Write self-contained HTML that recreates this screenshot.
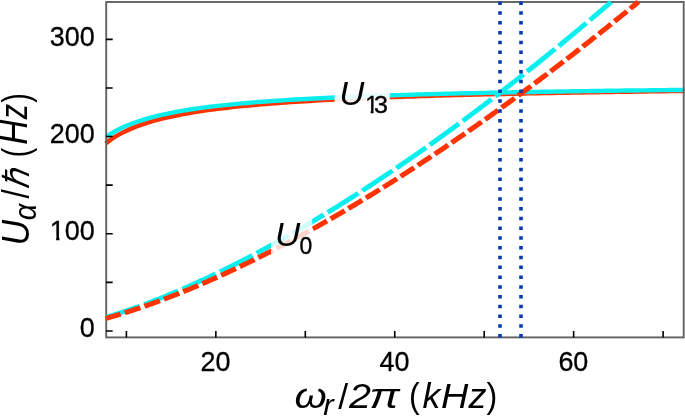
<!DOCTYPE html>
<html><head><meta charset="utf-8"><title>U vs omega</title>
<style>html,body{margin:0;padding:0;background:#fff}svg{display:block}text{font-family:"Liberation Sans",sans-serif;fill:#000}.t text{stroke:#000;stroke-width:.3px}.i{font-style:italic}</style></head>
<body>
<svg width="685" height="416" viewBox="0 0 685 416">
<rect width="685" height="416" fill="#fff"/>
<defs><clipPath id="k1"><polygon points="-71.51,-26.80 35.69,-26.80 35.69,2.68 -30.51,2.68 -30.51,-3.62 -35.20,-3.62 -35.20,1.34 -38.42,1.34 -38.42,-3.62 -71.51,-3.62"/></clipPath><clipPath id="k2"><polygon points="-23.60,-23.60 70.80,-23.60 70.80,2.36 12.51,2.36 12.51,-3.19 8.38,-3.19 8.38,1.18 5.55,1.18 5.55,-3.19 -23.60,-3.19"/></clipPath></defs>
<g fill="none">
<path d="M105.60,143.59 L110.46,139.90 L115.33,136.69 L120.19,133.88 L125.06,131.38 L129.92,129.14 L134.79,127.13 L139.65,125.30 L144.52,123.63 L149.38,122.10 L154.25,120.69 L159.11,119.38 L163.98,118.17 L168.84,117.04 L173.71,115.99 L178.57,115.00 L183.44,114.08 L188.30,113.21 L193.16,112.38 L198.03,111.61 L202.89,110.87 L207.76,110.18 L212.62,109.52 L217.49,108.89 L222.35,108.29 L227.22,107.72 L232.08,107.18 L236.95,106.66 L241.81,106.17 L246.68,105.69 L251.54,105.23 L256.41,104.80 L261.27,104.38 L266.14,103.97 L271.00,103.59 L275.86,103.21 L280.73,102.85 L285.59,102.50 L290.46,102.17 L295.32,101.85 L300.19,101.53 L305.05,101.23 L309.92,100.94 L314.78,100.66 L319.65,100.38 L324.51,100.12 L329.38,99.86 L334.24,99.61 L339.11,99.37 L343.97,99.13 L348.84,98.90 L353.70,98.68 L358.56,98.47 L363.43,98.26 L368.29,98.05 L373.16,97.85 L378.02,97.66 L382.89,97.47 L387.75,97.29 L392.62,97.11 L397.48,96.93 L402.35,96.76 L407.21,96.59 L412.08,96.43 L416.94,96.27 L421.81,96.12 L426.67,95.97 L431.54,95.82 L436.40,95.67 L441.26,95.53 L446.13,95.39 L450.99,95.26 L455.86,95.12 L460.72,94.99 L465.59,94.87 L470.45,94.74 L475.32,94.62 L480.18,94.50 L485.05,94.38 L489.91,94.27 L494.78,94.16 L499.64,94.04 L504.51,93.94 L509.37,93.83 L514.24,93.73 L519.10,93.62 L523.96,93.52 L528.83,93.42 L533.69,93.33 L538.56,93.23 L543.42,93.14 L548.29,93.04 L553.15,92.95 L558.02,92.87 L562.88,92.78 L567.75,92.69 L572.61,92.61 L577.48,92.52 L582.34,92.44 L587.21,92.36 L592.07,92.28 L596.94,92.21 L601.80,92.13 L606.66,92.05 L611.53,91.98 L616.39,91.91 L621.26,91.83 L626.12,91.76 L630.99,91.69 L635.85,91.62 L640.72,91.56 L645.58,91.49 L650.45,91.42 L655.31,91.36 L660.18,91.29 L665.04,91.23 L669.91,91.17 L674.77,91.11 L679.64,91.05 L684.50,90.99" stroke="#ff3300" stroke-width="4.4"/>
<path d="M105.90,137.05 L110.76,133.84 L115.62,131.02 L120.49,128.52 L125.35,126.28 L130.21,124.27 L135.07,122.45 L139.94,120.79 L144.80,119.28 L149.66,117.88 L154.52,116.60 L159.38,115.41 L164.25,114.31 L169.11,113.28 L173.97,112.32 L178.83,111.42 L183.69,110.58 L188.56,109.79 L193.42,109.04 L198.28,108.34 L203.14,107.67 L208.01,107.04 L212.87,106.44 L217.73,105.88 L222.59,105.33 L227.45,104.82 L232.32,104.33 L237.18,103.86 L242.04,103.41 L246.90,102.98 L251.77,102.57 L256.63,102.18 L261.49,101.80 L266.35,101.44 L271.21,101.09 L276.08,100.75 L280.94,100.43 L285.80,100.12 L290.66,99.81 L295.53,99.52 L300.39,99.24 L305.25,98.97 L310.11,98.71 L314.97,98.46 L319.84,98.21 L324.70,97.98 L329.56,97.75 L334.42,97.52 L339.28,97.31 L344.15,97.10 L349.01,96.89 L353.87,96.69 L358.73,96.50 L363.60,96.31 L368.46,96.13 L373.32,95.95 L378.18,95.78 L383.04,95.61 L387.91,95.45 L392.77,95.29 L397.63,95.13 L402.49,94.98 L407.36,94.83 L412.22,94.69 L417.08,94.55 L421.94,94.41 L426.80,94.28 L431.67,94.15 L436.53,94.02 L441.39,93.89 L446.25,93.77 L451.12,93.65 L455.98,93.53 L460.84,93.42 L465.70,93.30 L470.56,93.19 L475.43,93.08 L480.29,92.98 L485.15,92.87 L490.01,92.77 L494.87,92.67 L499.74,92.58 L504.60,92.48 L509.46,92.39 L514.32,92.29 L519.19,92.20 L524.05,92.11 L528.91,92.03 L533.77,91.94 L538.63,91.86 L543.50,91.78 L548.36,91.69 L553.22,91.61 L558.08,91.54 L562.95,91.46 L567.81,91.38 L572.67,91.31 L577.53,91.24 L582.39,91.16 L587.26,91.09 L592.12,91.02 L596.98,90.96 L601.84,90.89 L606.71,90.82 L611.57,90.76 L616.43,90.69 L621.29,90.63 L626.15,90.57 L631.02,90.51 L635.88,90.45 L640.74,90.39 L645.60,90.33 L650.46,90.27 L655.33,90.21 L660.19,90.16 L665.05,90.10 L669.91,90.05 L674.78,89.99 L679.64,89.94 L684.50,89.89" stroke="#0aeeee" stroke-width="4.4"/>
</g>
<rect x="106.2" y="2.0" width="577.5" height="335.4" fill="none" stroke="#626262" stroke-width="1.9"/>
<g fill="none" transform="scale(1.08,1)">
<path d="M97.96,317.33 L99.12,316.96 L100.27,316.58 L101.43,316.20 L102.58,315.82 L103.74,315.43 L104.90,315.04 L106.05,314.65 L107.21,314.25 L108.36,313.86 L109.52,313.45 L110.67,313.05 L111.83,312.64 L112.98,312.23 L114.14,311.81 L115.29,311.40 L116.45,310.98 L117.61,310.55 L118.76,310.13 L119.92,309.70 L121.07,309.27 L122.23,308.83 L123.38,308.39 L124.54,307.95 L125.69,307.51 L126.85,307.06 L128.00,306.61 L129.16,306.16 L130.32,305.71 L131.47,305.25 L132.63,304.79 L133.78,304.33 L134.94,303.86 L136.09,303.39 L137.25,302.92 L138.40,302.45 L139.56,301.97 L140.71,301.49 L141.87,301.01 L143.03,300.53 L144.18,300.04 L145.34,299.55 L146.49,299.06 L147.65,298.57 L148.80,298.07 L149.96,297.57 L151.11,297.07 L152.27,296.57 L153.42,296.06 L154.58,295.55 L155.74,295.04 L156.89,294.53 L158.05,294.01 L159.20,293.49 L160.36,292.97 L161.51,292.45 L162.67,291.92 L163.82,291.39 L164.98,290.86 L166.13,290.33 L167.29,289.79 L168.45,289.25 L169.60,288.71 L170.76,288.17 L171.91,287.63 L173.07,287.08 L174.22,286.53 L175.38,285.98 L176.53,285.43 L177.69,284.87 L178.84,284.31 L180.00,283.75 L181.16,283.19 L182.31,282.62 L183.47,282.06 L184.62,281.49 L185.78,280.91 L186.93,280.34 L188.09,279.77 L189.24,279.19 L190.40,278.61 L191.55,278.02 L192.71,277.44 L193.87,276.85 L195.02,276.26 L196.18,275.67 L197.33,275.08 L198.49,274.49 L199.64,273.89 L200.80,273.29 L201.95,272.69 L203.11,272.08 L204.26,271.48 L205.42,270.87 L206.57,270.26 L207.73,269.65 L208.89,269.04 L210.04,268.42 L211.20,267.80 L212.35,267.18 L213.51,266.56 L214.66,265.94 L215.82,265.31 L216.97,264.68 L218.13,264.05 L219.28,263.42 L220.44,262.79 L221.60,262.15 L222.75,261.51 L223.91,260.87 L225.06,260.23 L226.22,259.59 L227.37,258.94 L228.53,258.30 L229.68,257.65 L230.84,257.00 L231.99,256.34 L233.15,255.69 L234.31,255.03 L235.46,254.37 L236.62,253.71 L237.77,253.05 L238.93,252.38 L240.08,251.72 L241.24,251.05 L242.39,250.38 L243.55,249.71 L244.70,249.03 L245.86,248.36 L247.02,247.68 L248.17,247.00 L249.33,246.32 L250.48,245.64 L251.64,244.95 L252.79,244.26 L253.95,243.58 L255.10,242.88 L256.26,242.19 L257.41,241.50 L258.57,240.80 L259.73,240.11 L260.88,239.41 L262.04,238.70 L263.19,238.00 L264.35,237.30 L265.50,236.59 L266.66,235.88 L267.81,235.17 L268.97,234.46 L270.12,233.75 L271.28,233.03 L272.44,232.31 L273.59,231.60 L274.75,230.88 L275.90,230.15 L277.06,229.43 L278.21,228.70 L279.37,227.98 L280.52,227.25 L281.68,226.52 L282.83,225.78 L283.99,225.05 L285.15,224.31 L286.30,223.58 L287.46,222.84 L288.61,222.09 L289.77,221.35 L290.92,220.61 L292.08,219.86 L293.23,219.11 L294.39,218.36 L295.54,217.61 L296.70,216.86 L297.86,216.11 L299.01,215.35 L300.17,214.59 L301.32,213.83 L302.48,213.07 L303.63,212.31 L304.79,211.54 L305.94,210.78 L307.10,210.01 L308.25,209.24 L309.41,208.47 L310.57,207.70 L311.72,206.92 L312.88,206.15 L314.03,205.37 L315.19,204.59 L316.34,203.81 L317.50,203.03 L318.65,202.25 L319.81,201.46 L320.96,200.67 L322.12,199.89 L323.28,199.10 L324.43,198.30 L325.59,197.51 L326.74,196.72 L327.90,195.92 L329.05,195.12 L330.21,194.32 L331.36,193.52 L332.52,192.72 L333.67,191.92 L334.83,191.11 L335.98,190.30 L337.14,189.49 L338.30,188.68 L339.45,187.87 L340.61,187.06 L341.76,186.24 L342.92,185.43 L344.07,184.61 L345.23,183.79 L346.38,182.97 L347.54,182.15 L348.69,181.32 L349.85,180.50 L351.01,179.67 L352.16,178.84 L353.32,178.01 L354.47,177.18 L355.63,176.34 L356.78,175.51 L357.94,174.67 L359.09,173.84 L360.25,173.00 L361.40,172.16 L362.56,171.31 L363.72,170.47 L364.87,169.63 L366.03,168.78 L367.18,167.93 L368.34,167.08 L369.49,166.23 L370.65,165.38 L371.80,164.52 L372.96,163.67 L374.11,162.81 L375.27,161.95 L376.43,161.09 L377.58,160.23 L378.74,159.37 L379.89,158.51 L381.05,157.64 L382.20,156.77 L383.36,155.91 L384.51,155.04 L385.67,154.16 L386.82,153.29 L387.98,152.42 L389.14,151.54 L390.29,150.66 L391.45,149.79 L392.60,148.91 L393.76,148.03 L394.91,147.14 L396.07,146.26 L397.22,145.37 L398.38,144.49 L399.53,143.60 L400.69,142.71 L401.85,141.82 L403.00,140.92 L404.16,140.03 L405.31,139.13 L406.47,138.24 L407.62,137.34 L408.78,136.44 L409.93,135.54 L411.09,134.64 L412.24,133.73 L413.40,132.83 L414.56,131.92 L415.71,131.01 L416.87,130.10 L418.02,129.19 L419.18,128.28 L420.33,127.37 L421.49,126.45 L422.64,125.54 L423.80,124.62 L424.95,123.70 L426.11,122.78 L427.27,121.86 L428.42,120.94 L429.58,120.01 L430.73,119.09 L431.89,118.16 L433.04,117.23 L434.20,116.30 L435.35,115.37 L436.51,114.44 L437.66,113.51 L438.82,112.57 L439.98,111.64 L441.13,110.70 L442.29,109.76 L443.44,108.82 L444.60,107.88 L445.75,106.93 L446.91,105.99 L448.06,105.04 L449.22,104.10 L450.37,103.15 L451.53,102.20 L452.69,101.25 L453.84,100.30 L455.00,99.34 L456.15,98.39 L457.31,97.43 L458.46,96.47 L459.62,95.52 L460.77,94.56 L461.93,93.59 L463.08,92.63 L464.24,91.67 L465.40,90.70 L466.55,89.74 L467.71,88.77 L468.86,87.80 L470.02,86.83 L471.17,85.86 L472.33,84.88 L473.48,83.91 L474.64,82.93 L475.79,81.96 L476.95,80.98 L478.10,80.00 L479.26,79.02 L480.42,78.04 L481.57,77.05 L482.73,76.07 L483.88,75.08 L485.04,74.10 L486.19,73.11 L487.35,72.12 L488.50,71.13 L489.66,70.14 L490.81,69.14 L491.97,68.15 L493.13,67.15 L494.28,66.16 L495.44,65.16 L496.59,64.16 L497.75,63.16 L498.90,62.16 L500.06,61.15 L501.21,60.15 L502.37,59.14 L503.52,58.13 L504.68,57.13 L505.84,56.12 L506.99,55.11 L508.15,54.09 L509.30,53.08 L510.46,52.07 L511.61,51.05 L512.77,50.03 L513.92,49.02 L515.08,48.00 L516.23,46.98 L517.39,45.95 L518.55,44.93 L519.70,43.91 L520.86,42.88 L522.01,41.85 L523.17,40.83 L524.32,39.80 L525.48,38.77 L526.63,37.74 L527.79,36.70 L528.94,35.67 L530.10,34.63 L531.26,33.60 L532.41,32.56 L533.57,31.52 L534.72,30.48 L535.88,29.44 L537.03,28.40 L538.19,27.35 L539.34,26.31 L540.50,25.26 L541.65,24.22 L542.81,23.17 L543.97,22.12 L545.12,21.07 L546.28,20.01 L547.43,18.96 L548.59,17.91 L549.74,16.85 L550.90,15.79 L552.05,14.74 L553.21,13.68 L554.36,12.62 L555.52,11.56 L556.68,10.49 L557.83,9.43 L558.99,8.36 L560.14,7.30 L561.30,6.23 L562.45,5.16 L563.61,4.09 L564.76,3.02 L565.89,1.98" stroke="#0aeeee" stroke-width="4.75" stroke-dasharray="34.28 4.46" stroke-dashoffset="1.00"/>
<path d="M97.87,318.46 L99.08,318.10 L100.29,317.73 L101.50,317.36 L102.71,316.98 L103.92,316.60 L105.13,316.22 L106.35,315.84 L107.56,315.45 L108.77,315.06 L109.98,314.67 L111.19,314.27 L112.40,313.87 L113.61,313.46 L114.82,313.06 L116.03,312.65 L117.24,312.23 L118.45,311.82 L119.66,311.40 L120.87,310.98 L122.08,310.55 L123.29,310.12 L124.51,309.69 L125.72,309.26 L126.93,308.82 L128.14,308.38 L129.35,307.94 L130.56,307.49 L131.77,307.05 L132.98,306.60 L134.19,306.14 L135.40,305.69 L136.61,305.23 L137.82,304.77 L139.03,304.30 L140.24,303.83 L141.45,303.36 L142.67,302.89 L143.88,302.42 L145.09,301.94 L146.30,301.46 L147.51,300.98 L148.72,300.49 L149.93,300.00 L151.14,299.51 L152.35,299.02 L153.56,298.52 L154.77,298.02 L155.98,297.52 L157.19,297.02 L158.40,296.51 L159.61,296.01 L160.83,295.50 L162.04,294.98 L163.25,294.47 L164.46,293.95 L165.67,293.43 L166.88,292.91 L168.09,292.38 L169.30,291.85 L170.51,291.32 L171.72,290.79 L172.93,290.26 L174.14,289.72 L175.35,289.18 L176.56,288.64 L177.77,288.09 L178.99,287.55 L180.20,287.00 L181.41,286.45 L182.62,285.90 L183.83,285.34 L185.04,284.78 L186.25,284.22 L187.46,283.66 L188.67,283.10 L189.88,282.53 L191.09,281.96 L192.30,281.39 L193.51,280.82 L194.72,280.24 L195.93,279.66 L197.15,279.08 L198.36,278.50 L199.57,277.92 L200.78,277.33 L201.99,276.74 L203.20,276.15 L204.41,275.56 L205.62,274.97 L206.83,274.37 L208.04,273.77 L209.25,273.17 L210.46,272.57 L211.67,271.96 L212.88,271.36 L214.09,270.75 L215.31,270.14 L216.52,269.52 L217.73,268.91 L218.94,268.29 L220.15,267.67 L221.36,267.05 L222.57,266.43 L223.78,265.80 L224.99,265.17 L226.20,264.54 L227.41,263.91 L228.62,263.28 L229.83,262.64 L231.04,262.01 L232.25,261.37 L233.47,260.73 L234.68,260.08 L235.89,259.44 L237.10,258.79 L238.31,258.14 L239.52,257.49 L240.73,256.84 L241.94,256.18 L243.15,255.53 L244.36,254.87 L245.57,254.21 L246.78,253.54 L247.99,252.88 L249.20,252.21 L250.41,251.55 L251.63,250.88 L252.84,250.20 L254.05,249.53 L255.26,248.86 L256.47,248.18 L257.68,247.50 L258.89,246.82 L260.10,246.14 L261.31,245.45 L262.52,244.76 L263.73,244.08 L264.94,243.39 L266.15,242.69 L267.36,242.00 L268.58,241.30 L269.79,240.61 L271.00,239.91 L272.21,239.21 L273.42,238.50 L274.63,237.80 L275.84,237.09 L277.05,236.39 L278.26,235.68 L279.47,234.96 L280.68,234.25 L281.89,233.54 L283.10,232.82 L284.31,232.10 L285.52,231.38 L286.74,230.66 L287.95,229.93 L289.16,229.21 L290.37,228.48 L291.58,227.75 L292.79,227.02 L294.00,226.29 L295.21,225.55 L296.42,224.82 L297.63,224.08 L298.84,223.34 L300.05,222.60 L301.26,221.86 L302.47,221.11 L303.68,220.37 L304.90,219.62 L306.11,218.87 L307.32,218.12 L308.53,217.37 L309.74,216.61 L310.95,215.86 L312.16,215.10 L313.37,214.34 L314.58,213.58 L315.79,212.82 L317.00,212.05 L318.21,211.29 L319.42,210.52 L320.63,209.75 L321.84,208.98 L323.06,208.21 L324.27,207.43 L325.48,206.66 L326.69,205.88 L327.90,205.10 L329.11,204.32 L330.32,203.54 L331.53,202.76 L332.74,201.97 L333.95,201.18 L335.16,200.39 L336.37,199.60 L337.58,198.81 L338.79,198.02 L340.00,197.22 L341.22,196.43 L342.43,195.63 L343.64,194.83 L344.85,194.03 L346.06,193.23 L347.27,192.42 L348.48,191.62 L349.69,190.81 L350.90,190.00 L352.11,189.19 L353.32,188.38 L354.53,187.57 L355.74,186.75 L356.95,185.93 L358.16,185.12 L359.38,184.30 L360.59,183.48 L361.80,182.65 L363.01,181.83 L364.22,181.00 L365.43,180.18 L366.64,179.35 L367.85,178.52 L369.06,177.68 L370.27,176.85 L371.48,176.02 L372.69,175.18 L373.90,174.34 L375.11,173.50 L376.32,172.66 L377.54,171.82 L378.75,170.98 L379.96,170.13 L381.17,169.29 L382.38,168.44 L383.59,167.59 L384.80,166.74 L386.01,165.88 L387.22,165.03 L388.43,164.17 L389.64,163.32 L390.85,162.46 L392.06,161.60 L393.27,160.74 L394.48,159.87 L395.70,159.01 L396.91,158.14 L398.12,157.28 L399.33,156.41 L400.54,155.54 L401.75,154.67 L402.96,153.79 L404.17,152.92 L405.38,152.04 L406.59,151.17 L407.80,150.29 L409.01,149.41 L410.22,148.53 L411.43,147.64 L412.64,146.76 L413.86,145.87 L415.07,144.99 L416.28,144.10 L417.49,143.21 L418.70,142.32 L419.91,141.42 L421.12,140.53 L422.33,139.63 L423.54,138.74 L424.75,137.84 L425.96,136.94 L427.17,136.04 L428.38,135.14 L429.59,134.23 L430.81,133.33 L432.02,132.42 L433.23,131.51 L434.44,130.60 L435.65,129.69 L436.86,128.78 L438.07,127.87 L439.28,126.95 L440.49,126.03 L441.70,125.12 L442.91,124.20 L444.12,123.28 L445.33,122.36 L446.54,121.43 L447.75,120.51 L448.97,119.58 L450.18,118.66 L451.39,117.73 L452.60,116.80 L453.81,115.87 L455.02,114.93 L456.23,114.00 L457.44,113.06 L458.65,112.13 L459.86,111.19 L461.07,110.25 L462.28,109.31 L463.49,108.37 L464.70,107.42 L465.91,106.48 L467.13,105.53 L468.34,104.59 L469.55,103.64 L470.76,102.69 L471.97,101.74 L473.18,100.78 L474.39,99.83 L475.60,98.88 L476.81,97.92 L478.02,96.96 L479.23,96.00 L480.44,95.04 L481.65,94.08 L482.86,93.12 L484.07,92.15 L485.29,91.19 L486.50,90.22 L487.71,89.25 L488.92,88.28 L490.13,87.31 L491.34,86.34 L492.55,85.37 L493.76,84.39 L494.97,83.42 L496.18,82.44 L497.39,81.46 L498.60,80.48 L499.81,79.50 L501.02,78.52 L502.23,77.53 L503.45,76.55 L504.66,75.56 L505.87,74.58 L507.08,73.59 L508.29,72.60 L509.50,71.61 L510.71,70.61 L511.92,69.62 L513.13,68.62 L514.34,67.63 L515.55,66.63 L516.76,65.63 L517.97,64.63 L519.18,63.63 L520.39,62.63 L521.61,61.62 L522.82,60.62 L524.03,59.61 L525.24,58.61 L526.45,57.60 L527.66,56.59 L528.87,55.58 L530.08,54.56 L531.29,53.55 L532.50,52.53 L533.71,51.52 L534.92,50.50 L536.13,49.48 L537.34,48.46 L538.55,47.44 L539.77,46.42 L540.98,45.40 L542.19,44.37 L543.40,43.34 L544.61,42.32 L545.82,41.29 L547.03,40.26 L548.24,39.23 L549.45,38.20 L550.66,37.16 L551.87,36.13 L553.08,35.09 L554.29,34.06 L555.50,33.02 L556.71,31.98 L557.93,30.94 L559.14,29.90 L560.35,28.85 L561.56,27.81 L562.77,26.76 L563.98,25.72 L565.19,24.67 L566.40,23.62 L567.61,22.57 L568.82,21.52 L570.03,20.47 L571.24,19.41 L572.45,18.36 L573.66,17.30 L574.87,16.25 L576.09,15.19 L577.30,14.13 L578.51,13.07 L579.72,12.00 L580.93,10.94 L582.14,9.88 L583.35,8.81 L584.56,7.74 L585.77,6.68 L586.98,5.61 L588.19,4.54 L589.40,3.47 L590.61,2.39 L591.08,1.98" stroke="#ff3300" stroke-width="4.95" stroke-dasharray="15.29 4.07" stroke-dashoffset="0.79"/>
</g>
<rect x="334.6" y="80" width="55.2" height="36" fill="#fff" fill-opacity="0.885"/>
<rect x="271" y="200" width="41.3" height="60" fill="#fff" fill-opacity="0.8"/>
<line x1="500.0" y1="1.55" x2="500.0" y2="337.4" stroke="#0638ae" stroke-width="3.6" stroke-dasharray="3.5 6.28"/>
<line x1="521.0" y1="1.55" x2="521.0" y2="337.4" stroke="#0638ae" stroke-width="3.6" stroke-dasharray="3.5 6.28"/>
<path d="M106.0,330.95h6.7 M106.0,282.35h6.7 M106.0,233.75h6.7 M106.0,185.15h6.7 M106.0,136.55h6.7 M106.0,87.95h6.7 M106.0,39.35h6.7 M126.40,337.59999999999997v-6.6 M215.85,337.59999999999997v-6.6 M305.30,337.59999999999997v-6.6 M394.75,337.59999999999997v-6.6 M484.20,337.59999999999997v-6.6 M573.65,337.59999999999997v-6.6 M663.10,337.59999999999997v-6.6" stroke="#000" stroke-width="1.6" fill="none"/>
<g class="t">
<text transform="translate(94.8,337.10) scale(1.005,1)" font-size="26.8" text-anchor="end">0</text>
<text transform="translate(94.8,239.90) scale(1.005,1)" font-size="26.8" text-anchor="end" clip-path="url(#k1)">100</text>
<text transform="translate(94.8,142.70) scale(1.005,1)" font-size="26.8" text-anchor="end">200</text>
<text transform="translate(94.8,45.50) scale(1.005,1)" font-size="26.8" text-anchor="end">300</text>
<text transform="translate(215.55,370.8) scale(1.005,1)" font-size="26.8" text-anchor="middle">20</text>
<text transform="translate(394.45,370.8) scale(1.005,1)" font-size="26.8" text-anchor="middle">40</text>
<text transform="translate(573.35,370.8) scale(1.005,1)" font-size="26.8" text-anchor="middle">60</text>
</g>
<g class="i" transform="translate(0,104.5)"><text transform="translate(339.19,0) scale(1.047,1)" font-size="33.2">U</text><text transform="translate(365.15,8.9) scale(1.003,1)" font-size="23.6" font-style="normal" stroke="#000" stroke-width=".35" clip-path="url(#k2)">1</text><text transform="translate(374.10,8.9) scale(1.064,1)" font-size="23.6" font-style="normal" stroke="#000" stroke-width=".35">3</text></g>
<g class="i" transform="translate(0,245.5)"><text transform="translate(275.08,0) scale(1.046,1)" font-size="33.4">U</text><text transform="translate(299.48,8.3) scale(0.972,1)" font-size="23.6" font-style="normal" stroke="#000" stroke-width=".35">0</text></g>
<g class="i" transform="translate(0,407.6)"><text transform="translate(294.45,0) scale(1.200,1)" font-size="34.5">ω</text><text transform="translate(323.33,7.7) scale(1.084,1)" font-size="29">r</text><text transform="translate(338.20,1.1) scale(1.027,1)" font-size="34.7" font-style="normal">/</text><text transform="translate(349.00,0) scale(1.143,1)" font-size="34.5">2</text><text transform="translate(369.25,0) scale(1.322,1)" font-size="34.5">π</text><text transform="translate(408.88,0.6) scale(0.930,1)" font-size="34.5" font-style="normal">(</text><text transform="translate(422.57,0) scale(1.032,1)" font-size="34.5">k</text><text transform="translate(441.06,0) scale(1.097,1)" font-size="34.5">H</text><text transform="translate(468.38,0) scale(1.047,1)" font-size="34.5">z</text><text transform="translate(486.38,0.8) scale(0.936,1)" font-size="34.5" font-style="normal">)</text></g>
<g class="i" transform="translate(28.5,245.5) scale(1.13,1) rotate(-90)"><text transform="translate(0.03,0) scale(1.030,1)" font-size="34.5">U</text><text transform="translate(25.18,6.4) scale(1.061,1)" font-size="27.5">α</text><text transform="translate(46.90,0.6) scale(0.959,1)" font-size="34.5" font-style="normal">/</text><text transform="translate(56.79,0) scale(0.934,0.92)" font-size="34.5">ℏ</text><text transform="translate(88.18,0) scale(0.831,1)" font-size="34.5" font-style="normal">(</text><text transform="translate(100.66,-0.9) scale(1.005,1)" font-size="34.5">H</text><text transform="translate(126.25,-0.9) scale(0.887,1)" font-size="34.5">z</text><text transform="translate(142.71,0) scale(0.836,1)" font-size="34.5" font-style="normal">)</text></g>
</svg>
</body></html>
